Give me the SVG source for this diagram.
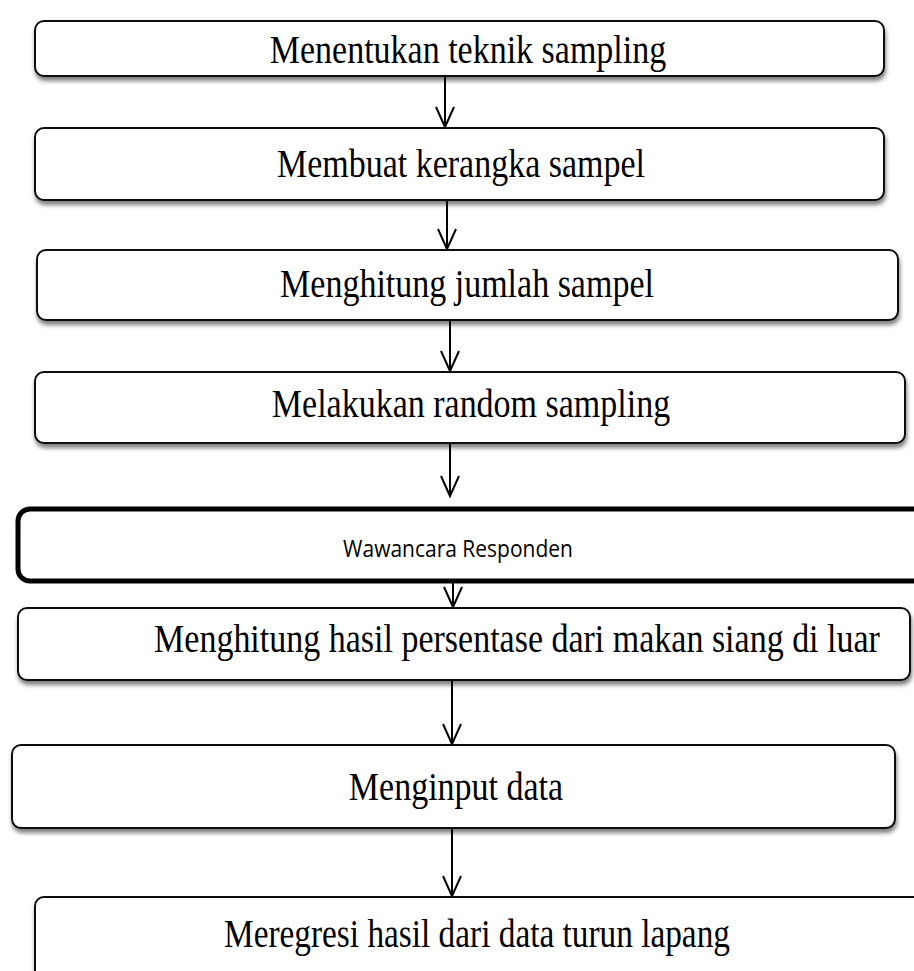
<svg xmlns="http://www.w3.org/2000/svg" width="914" height="971" viewBox="0 0 914 971">
<defs>
<style>
.box{fill:#fff;stroke:#111;stroke-width:2;filter:url(#sh)}
.bold{fill:#fff;stroke:#000;stroke-width:5}
.t{font-family:"Liberation Serif","Times New Roman",serif;font-size:34px;fill:#000;text-anchor:middle}
.s{font-family:"Open Sans","Noto Sans",sans-serif;font-size:21px;fill:#000;text-anchor:middle}
.c{fill:none;stroke:#000;stroke-width:2}
</style>
<filter id="sh" x="-5%" y="-20%" width="110%" height="150%">
<feDropShadow dx="1" dy="4" stdDeviation="2" flood-color="#000" flood-opacity="0.5"/>
</filter>
<marker id="ah" markerWidth="26" markerHeight="26" refX="23" refY="13" orient="auto" markerUnits="userSpaceOnUse" viewBox="0 0 26 26">
<path d="M3 4 L23 13 L3 22" fill="none" stroke="#000" stroke-width="2"/>
</marker>
</defs>
<g id="connectors">
<line class="c" x1="445" y1="76" x2="445" y2="127" marker-end="url(#ah)"/>
<line class="c" x1="447" y1="200" x2="447" y2="249" marker-end="url(#ah)"/>
<line class="c" x1="450" y1="320" x2="450" y2="371" marker-end="url(#ah)"/>
<line class="c" x1="450" y1="443" x2="450" y2="496" marker-end="url(#ah)"/>
<line class="c" x1="453" y1="582" x2="453" y2="607" marker-end="url(#ah)"/>
<line class="c" x1="452" y1="680" x2="452" y2="744" marker-end="url(#ah)"/>
<line class="c" x1="452" y1="828" x2="452" y2="896" marker-end="url(#ah)"/>
</g>
<g id="n1"><rect class="box" x="35" y="21" width="849" height="55" rx="9"/><text class="t" transform="translate(468,63) scale(1,1.15)">Menentukan teknik sampling</text></g>
<g id="n2"><rect class="box" x="35" y="128" width="849" height="72" rx="9"/><text class="t" transform="translate(461,177) scale(1,1.15)">Membuat kerangka sampel</text></g>
<g id="n3"><rect class="box" x="37" y="250" width="861" height="70" rx="9"/><text class="t" transform="translate(467,297) scale(1,1.15)">Menghitung jumlah sampel</text></g>
<g id="n4"><rect class="box" x="35" y="372" width="870" height="71" rx="9"/><text class="t" transform="translate(471,417) scale(1,1.15)">Melakukan random sampling</text></g>
<g id="n5"><rect class="bold" x="18" y="509" width="910" height="72" rx="12"/><text class="s" transform="translate(458,557) scale(1,1.12)">Wawancara Responden</text></g>
<g id="n6"><rect class="box" x="18" y="608" width="892" height="72" rx="9"/><text class="t" transform="translate(517,652) scale(1,1.15)">Menghitung hasil persentase dari makan siang di luar</text></g>
<g id="n7"><rect class="box" x="12" y="745" width="883" height="83" rx="9"/><text class="t" transform="translate(456,800) scale(1,1.15)">Menginput data</text></g>
<g id="n8"><rect class="box" x="35" y="897" width="900" height="90" rx="9"/><text class="t" transform="translate(477,947) scale(0.98,1.15)">Meregresi hasil dari data turun lapang</text></g>
</svg>
